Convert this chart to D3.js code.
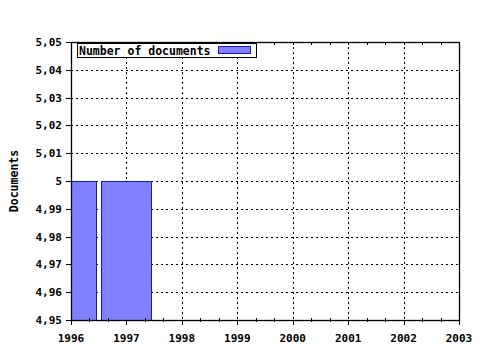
<!DOCTYPE html>
<html><head><meta charset="utf-8">
<script src="https://cdn.jsdelivr.net/npm/d3@7"></script>
<style>
body{margin:0;background:#fff;}
text{font-family:"DejaVu Sans Mono",monospace;}
</style></head>
<body><svg id="c" width="480" height="350"></svg>
<script>
const years = [1996, 1997];
const values = [5, 5];
const xTicks = [1996, 1997, 1998, 1999, 2000, 2001, 2002, 2003];
const yTicks = [4.95, 4.96, 4.97, 4.98, 4.99, 5.00, 5.01, 5.02, 5.03, 5.04, 5.05];
const seriesName = "Number of documents";
const yTitle = "Documents";

const svg = d3.select("#c");
const L = 71, R = 459, T = 42, B = 320;
const x = d3.scaleLinear().domain([1996, 2003]).range([L, R]);
const y = d3.scaleLinear().domain([4.95, 5.05]).range([B, T]);
const loc = d3.formatLocale({decimal: ",", thousands: ".", grouping: [3], currency: ["", ""]});
const fmt = loc.format("~g");

svg.append("rect").attr("width", 480).attr("height", 350).attr("fill", "#fff");

svg.append("clipPath").attr("id", "pa").append("rect")
  .attr("x", L).attr("y", T).attr("width", R - L).attr("height", B - T);

// grid
const g = svg.append("g").attr("stroke", "#000").attr("stroke-dasharray", "2,3").attr("shape-rendering", "crispEdges");
yTicks.slice(1, -1).forEach(v => {
  g.append("line").attr("x1", L).attr("x2", R).attr("y1", Math.round(y(v)) + 0.5).attr("y2", Math.round(y(v)) + 0.5);
});
xTicks.slice(1, -1).forEach(v => {
  g.append("line").attr("y1", T).attr("y2", B).attr("x1", Math.round(x(v)) + 0.5).attr("x2", Math.round(x(v)) + 0.5);
});

// bars
const bw = 0.9;
svg.append("g").attr("clip-path", "url(#pa)").selectAll("rect").data(years).join("rect")
  .attr("x", (d) => Math.round(x(d - bw / 2)) + 0.5)
  .attr("width", Math.round(x(1996 + bw)) - Math.round(x(1996)))
  .attr("y", (d, i) => Math.round(y(values[i])) + 0.5)
  .attr("height", (d, i) => B - Math.round(y(values[i])))
  .attr("fill", "#8080ff").attr("stroke", "#1a1ab0").attr("stroke-width", 1);

// frame
svg.append("rect").attr("x", L + 0.5).attr("y", T + 0.5).attr("width", R - L).attr("height", B - T)
  .attr("fill", "none").attr("stroke", "#000").attr("stroke-width", 1.3);

// x ticks
const tk = svg.append("g").attr("stroke", "#000").attr("shape-rendering", "crispEdges");
const minor = [];
for (let i = 0; i < xTicks.length - 1; i++) { minor.push(xTicks[i] + 1 / 3, xTicks[i] + 2 / 3); }
xTicks.forEach(v => {
  const xx = Math.round(x(v)) + 0.5;
  tk.append("line").attr("x1", xx).attr("x2", xx).attr("y1", B).attr("y2", B + 5);
  tk.append("line").attr("x1", xx).attr("x2", xx).attr("y1", T).attr("y2", T + 3);
});
minor.forEach(v => {
  const xx = Math.round(x(v)) + 0.5;
  tk.append("line").attr("x1", xx).attr("x2", xx).attr("y1", B - 2).attr("y2", B + 2);
  tk.append("line").attr("x1", xx).attr("x2", xx).attr("y1", T).attr("y2", T + 3);
});
yTicks.forEach(v => {
  const yy = Math.round(y(v)) + 0.5;
  tk.append("line").attr("x1", L - 5).attr("x2", L).attr("y1", yy).attr("y2", yy);
});

// labels
svg.append("g").selectAll("text").data(xTicks).join("text")
  .attr("x", d => x(d)).attr("y", 342).attr("text-anchor", "middle")
  .attr("font-size", 11).attr("font-weight", "bold").text(d => d);
svg.append("g").selectAll("text").data(yTicks).join("text")
  .attr("x", 62).attr("y", d => y(d) + 4).attr("text-anchor", "end")
  .attr("font-size", 11).attr("font-weight", "bold").text(d => fmt(d));
svg.append("text").attr("transform", "translate(18,181) rotate(-90)").attr("text-anchor", "middle")
  .attr("font-size", 11.5).attr("font-weight", "bold").text(yTitle);

// legend
const lg = svg.append("g");
lg.append("rect").attr("x", 77.5).attr("y", 43.5).attr("width", 179).attr("height", 14)
  .attr("fill", "#fff").attr("stroke", "#000").attr("stroke-width", 1);
lg.append("text").attr("x", 79).attr("y", 54.5).attr("font-size", 11.5).attr("font-weight", "bold").text(seriesName);
lg.append("rect").attr("x", 218.5).attr("y", 46.5).attr("width", 32).attr("height", 7)
  .attr("fill", "#8080ff").attr("stroke", "#1a1ab0");
</script></body></html>
